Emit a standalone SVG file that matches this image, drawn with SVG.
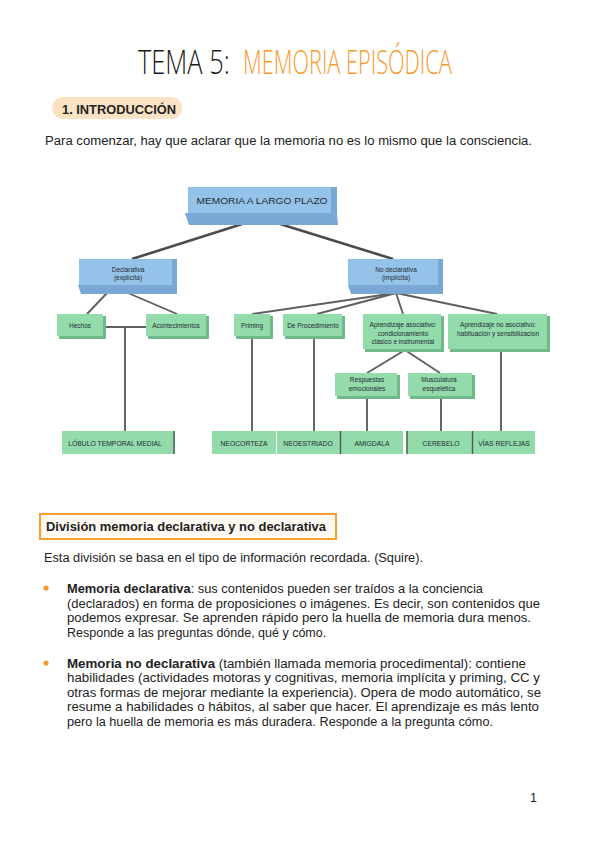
<svg xmlns="http://www.w3.org/2000/svg" width="599" height="848" viewBox="0 0 599 848">
<style>
.body{font-family:"Liberation Sans",Arial,sans-serif;font-size:12.5px;fill:#222}
.b{font-weight:bold}
.title{font-family:"Open Sans","DejaVu Sans",sans-serif;font-weight:300;font-size:33px}
.bt{font-family:"Liberation Sans",Arial,sans-serif;fill:#1e2a33;text-anchor:middle}
.g{fill:#93dbab}
.gs{fill:#6fb98b}
.bl{fill:#95c2e8}
.bls{fill:#79a8d5}
.c1{stroke:#4b4b4b;stroke-width:2.6;fill:none}
.c2{stroke:#5f5f5f;stroke-width:1.9;fill:none}
.dv{stroke:#4f5a52;stroke-width:1.4}
</style>
<rect width="599" height="848" fill="#ffffff"/>

<g id="title">
<text class="title" transform="translate(138,74) scale(0.7,1)" x="0" y="0" fill="#1a1a1a" textLength="131" lengthAdjust="spacingAndGlyphs">TEMA 5:</text>
<text class="title" transform="translate(243,74) scale(0.6,1)" x="0" y="0" fill="#f79a2e" textLength="348" lengthAdjust="spacingAndGlyphs">MEMORIA EPISÓDICA</text>
</g>

<g id="sec1">
<rect x="52" y="97" width="130" height="22" rx="11" fill="#fbe2c5"/>
<text class="body b" x="62" y="114" font-size="12" textLength="114" lengthAdjust="spacingAndGlyphs">1. INTRODUCCIÓN</text>
</g>
<text class="body" x="45" y="145" textLength="487" lengthAdjust="spacingAndGlyphs">Para comenzar, hay que aclarar que la memoria no es lo mismo que la consciencia.</text>

<g id="connectors">
<line class="c1" x1="258" y1="219" x2="132" y2="259"/>
<line class="c1" x1="264" y1="219" x2="393" y2="259"/>
<line class="c2" x1="107" y1="293" x2="87" y2="314"/>
<line class="c2" x1="128" y1="293" x2="177" y2="314"/>
<line class="c2" x1="104" y1="327" x2="146" y2="327"/>
<line class="c2" x1="125" y1="327" x2="125" y2="431"/>
<line class="c2" x1="396" y1="293" x2="252" y2="314"/>
<line class="c2" x1="396" y1="293" x2="317" y2="314"/>
<line class="c2" x1="396" y1="293" x2="403" y2="314"/>
<line class="c2" x1="396" y1="293" x2="497" y2="314"/>
<line class="c2" x1="405" y1="350" x2="367" y2="373"/>
<line class="c2" x1="405" y1="350" x2="440" y2="373"/>
<line class="c2" x1="252" y1="337" x2="252" y2="431"/>
<line class="c2" x1="314" y1="337" x2="314" y2="431"/>
<line class="c2" x1="367" y1="397" x2="367" y2="431"/>
<line class="c2" x1="441" y1="397" x2="441" y2="431"/>
<line class="c2" x1="501" y1="350" x2="501" y2="431"/>
</g>

<g id="n-mlp">
<polygon class="bls" points="185,213 337,213 338,225 189,225"/>
<rect class="bls" x="331" y="187" width="6" height="27"/>
<rect class="bl" x="188" y="187" width="143" height="26"/>
<text class="bt" x="262" y="204" font-size="9.5" textLength="131" lengthAdjust="spacingAndGlyphs">MEMORIA A LARGO PLAZO</text>
</g>

<g id="n-decl">
<polygon class="bls" points="78,285 177,285 177,294 81,294"/>
<rect class="bls" x="172" y="259" width="5" height="27"/>
<rect class="bl" x="79" y="259" width="93" height="26"/>
<text class="bt" x="128" y="271.5" font-size="6.5">Declarativa</text>
<text class="bt" x="128" y="279.5" font-size="6.5">(explícita)</text>
</g>

<g id="n-nodecl">
<polygon class="bls" points="348,285 443,285 443,294 351,294"/>
<rect class="bls" x="438" y="259" width="5" height="27"/>
<rect class="bl" x="348" y="259" width="90" height="26"/>
<text class="bt" x="396" y="271.5" font-size="6.5">No declarativa</text>
<text class="bt" x="396" y="279.5" font-size="6.5">(implícita)</text>
</g>

<g id="n-hechos">
<rect class="gs" x="59" y="316" width="47" height="23"/>
<rect class="g" x="57" y="314" width="46" height="22"/>
<text class="bt" x="80" y="327.5" font-size="6.5">Hechos</text>
</g>
<g id="n-acont">
<rect class="gs" x="148" y="316" width="61" height="23"/>
<rect class="g" x="146" y="314" width="60" height="22"/>
<text class="bt" x="176" y="327.5" font-size="6.5">Acontecimientos</text>
</g>
<g id="n-priming">
<rect class="gs" x="236" y="316" width="37" height="23"/>
<rect class="g" x="234" y="314" width="36" height="22"/>
<text class="bt" x="252" y="327.5" font-size="6.5">Priming</text>
</g>
<g id="n-proc">
<rect class="gs" x="285" y="316" width="60" height="23"/>
<rect class="g" x="283" y="314" width="59" height="22"/>
<text class="bt" x="313" y="327.5" font-size="6.5">De Procedimiento</text>
</g>
<g id="n-asoc">
<rect class="gs" x="365" y="316" width="79" height="36"/>
<rect class="g" x="363" y="314" width="78" height="35"/>
<text class="bt" x="403" y="327" font-size="6.5">Aprendizaje asociativo:</text>
<text class="bt" x="403" y="335.5" font-size="6.5">condicionamiento</text>
<text class="bt" x="403" y="344" font-size="6.5">clásico e instrumental</text>
</g>
<g id="n-noasoc">
<rect class="gs" x="450" y="316" width="100" height="36"/>
<rect class="g" x="448" y="314" width="99" height="35"/>
<text class="bt" x="498" y="327" font-size="6.5">Aprendizaje no asociativo:</text>
<text class="bt" x="498" y="335.5" font-size="6.5">habituación y sensibilizacion</text>
</g>
<g id="n-resp">
<rect class="gs" x="337" y="375" width="63" height="24"/>
<rect class="g" x="335" y="373" width="62" height="23"/>
<text class="bt" x="367" y="382" font-size="6.5">Respuestas</text>
<text class="bt" x="367" y="390.5" font-size="6.5">emocionales</text>
</g>
<g id="n-musc">
<rect class="gs" x="410" y="375" width="65" height="24"/>
<rect class="g" x="408" y="373" width="64" height="23"/>
<text class="bt" x="439" y="382" font-size="6.5">Musculatura</text>
<text class="bt" x="439" y="390.5" font-size="6.5">esquelética</text>
</g>

<g id="n-lobulo">
<rect class="g" x="62" y="431" width="113" height="23"/>
<line class="dv" x1="174" y1="431" x2="174" y2="454"/>
<text class="bt" x="115" y="446" font-size="6.8">LÓBULO TEMPORAL MEDIAL</text>
</g>
<g id="n-neocorteza">
<rect class="g" x="212" y="431" width="64" height="23"/>
<text class="bt" x="244" y="446" font-size="6.8">NEOCORTEZA</text>
</g>
<g id="n-neoestriado">
<rect class="g" x="277" y="431" width="63" height="23"/>
<text class="bt" x="308" y="446" font-size="6.8">NEOESTRIADO</text>
</g>
<g id="n-amigdala">
<rect class="g" x="340" y="431" width="63" height="23"/>
<line class="dv" x1="340.5" y1="431" x2="340.5" y2="454"/>
<text class="bt" x="372" y="446" font-size="6.8">AMIGDALA</text>
</g>
<g id="n-cerebelo">
<rect class="g" x="406" y="431" width="66" height="23"/>
<line class="dv" x1="407" y1="431" x2="407" y2="454"/>
<text class="bt" x="441" y="446" font-size="6.8">CEREBELO</text>
</g>
<g id="n-vias">
<rect class="g" x="472" y="431" width="63" height="23"/>
<line class="dv" x1="472.5" y1="431" x2="472.5" y2="454"/>
<text class="bt" x="504" y="446" font-size="6.8">VÍAS REFLEJAS</text>
</g>

<g id="sec2">
<rect x="40" y="514" width="296" height="25" fill="#fffaf4" stroke="#f7a030" stroke-width="2"/>
<text class="body b" x="46" y="531" textLength="280" lengthAdjust="spacingAndGlyphs">División memoria declarativa y no declarativa</text>
</g>
<text class="body" x="44" y="562" textLength="379" lengthAdjust="spacingAndGlyphs">Esta división se basa en el tipo de información recordada. (Squire).</text>

<circle cx="46" cy="588" r="2.6" fill="#f79a2e"/>
<text class="body" x="67" y="593" textLength="416" lengthAdjust="spacingAndGlyphs"><tspan class="b">Memoria declarativa</tspan>: sus contenidos pueden ser traídos a la conciencia</text>
<text class="body" x="67" y="607.5" textLength="473" lengthAdjust="spacingAndGlyphs">(declarados) en forma de proposiciones o imágenes. Es decir, son contenidos que</text>
<text class="body" x="67" y="622" textLength="464" lengthAdjust="spacingAndGlyphs">podemos expresar. Se aprenden rápido pero la huella de memoria dura menos.</text>
<text class="body" x="67" y="636.5">Responde a las preguntas dónde, qué y cómo.</text>

<circle cx="46" cy="663" r="2.6" fill="#f79a2e"/>
<text class="body" x="67" y="667.5" textLength="459" lengthAdjust="spacingAndGlyphs"><tspan class="b">Memoria no declarativa</tspan> (también llamada memoria procedimental): contiene</text>
<text class="body" x="67" y="682" textLength="473" lengthAdjust="spacingAndGlyphs">habilidades (actividades motoras y cognitivas, memoria implícita y priming, CC y</text>
<text class="body" x="67" y="696.5" textLength="474" lengthAdjust="spacingAndGlyphs">otras formas de mejorar mediante la experiencia). Opera de modo automático, se</text>
<text class="body" x="67" y="711" textLength="472" lengthAdjust="spacingAndGlyphs">resume a habilidades o hábitos, al saber que hacer. El aprendizaje es más lento</text>
<text class="body" x="67" y="725.5" textLength="426" lengthAdjust="spacingAndGlyphs">pero la huella de memoria es más duradera. Responde a la pregunta cómo.</text>

<text class="body" x="530" y="802" font-size="12">1</text>
</svg>
